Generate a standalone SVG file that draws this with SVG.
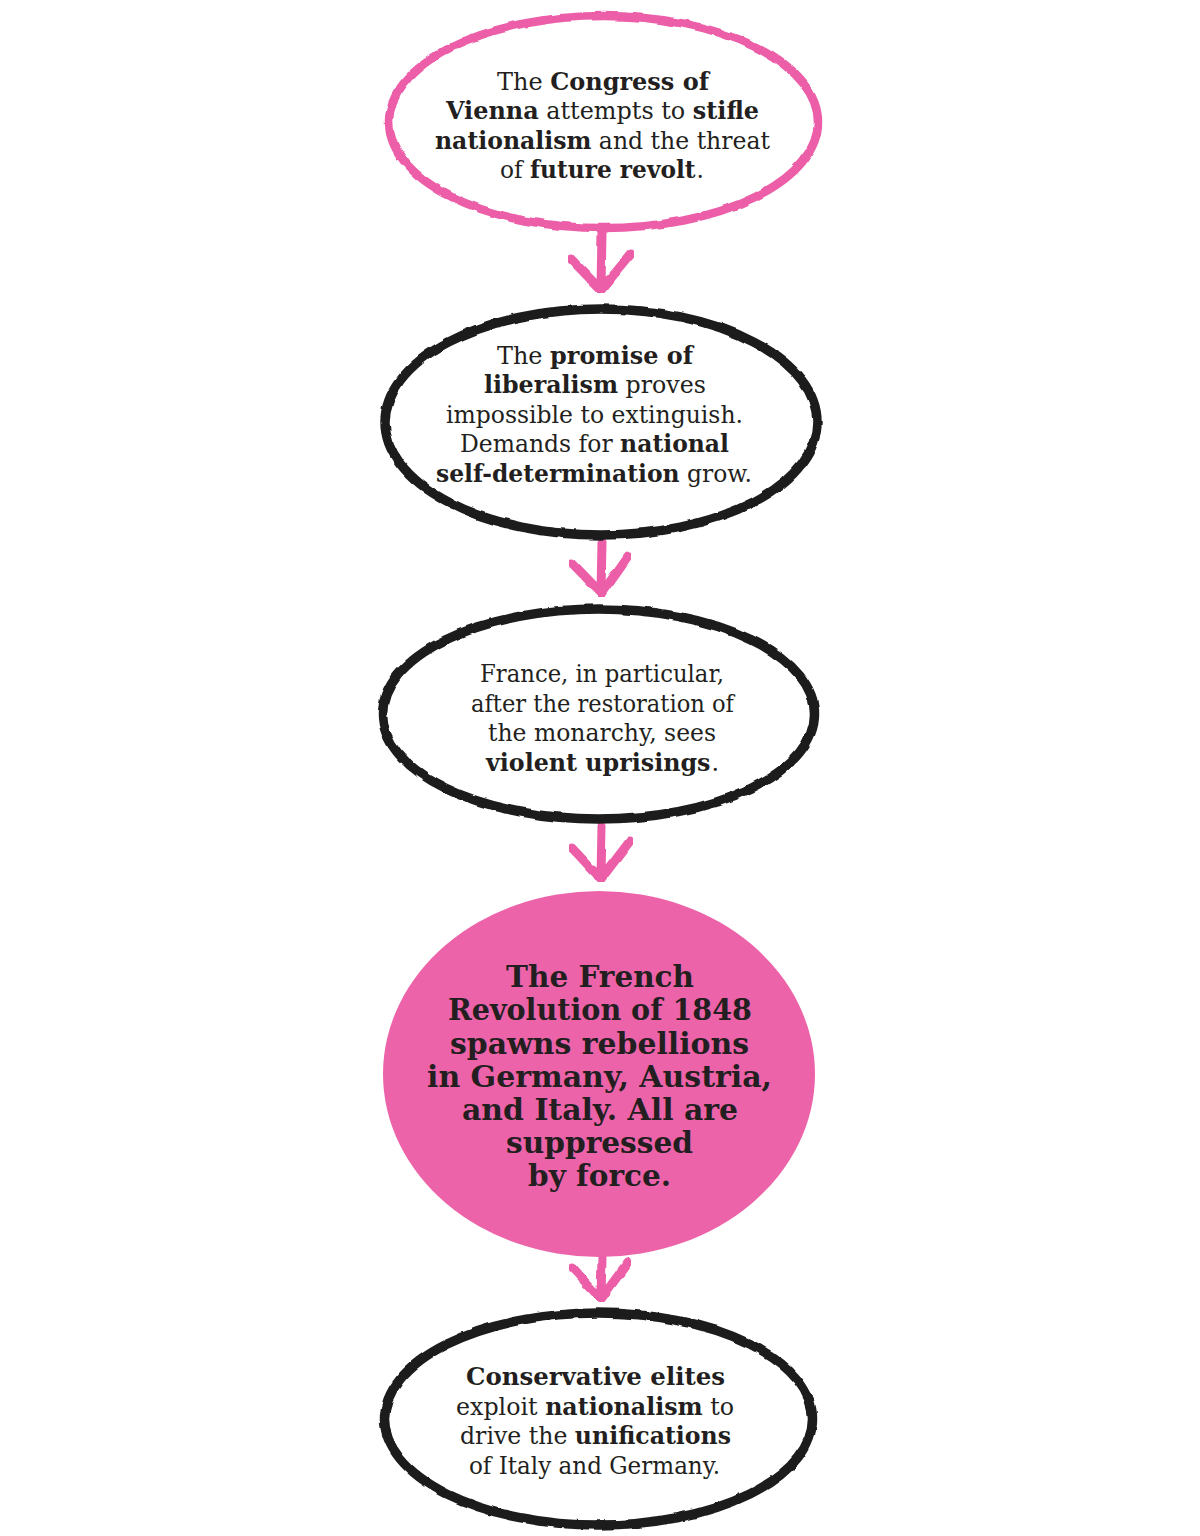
<svg xmlns="http://www.w3.org/2000/svg" width="1200" height="1536" viewBox="0 0 1200 1536">
<defs>
<filter id="rough" x="-5%" y="-5%" width="110%" height="110%">
<feTurbulence type="fractalNoise" baseFrequency="0.06" numOctaves="2" seed="3" result="n"/>
<feDisplacementMap in="SourceGraphic" in2="n" scale="3.5" xChannelSelector="R" yChannelSelector="G"/>
</filter>
<style>
.outline-pink{fill:#ffffff;stroke:#EC5FA8;stroke-width:8.5}
.outline-black{fill:#ffffff;stroke:#1f1b1c;stroke-width:9.5}
.solid-pink{fill:#EC63A9;stroke:none}
.arrow{fill:none;stroke:#EC5FA8;stroke-width:9;stroke-linecap:round;stroke-linejoin:round}
.t{font-family:"DejaVu Serif","Liberation Serif",serif;font-size:24px;fill:#231F20;text-anchor:middle}
.b{font-weight:bold}
.big{font-family:"DejaVu Serif","Liberation Serif",serif;font-size:30px;font-weight:bold;fill:#231F20;text-anchor:middle}
</style>
</defs>
<rect width="1200" height="1536" fill="#ffffff"/>

<g id="connectors">
<path class="arrow" filter="url(#rough)" d="M602,232 L601,289 M571,259 L601,290 L631,254"/>
<path class="arrow" filter="url(#rough)" d="M602,542 L601,593 M572,563 L602,594 L628,557"/>
<path class="arrow" filter="url(#rough)" d="M602,826 L601,877 M572,848 L601,879 L630,841"/>
<path class="arrow" filter="url(#rough)" d="M602,1258 L601,1297 M572,1268 L601,1299 L628,1262"/>
</g>

<g id="node1">
<ellipse class="outline-pink" filter="url(#rough)" cx="603.5" cy="122" rx="214.5" ry="106"/>
<text class="t" x="603" y="90" textLength="212" lengthAdjust="spacingAndGlyphs">The <tspan class="b">Congress of</tspan></text>
<text class="t" x="602.5" y="119" textLength="313" lengthAdjust="spacingAndGlyphs"><tspan class="b">Vienna</tspan> attempts to <tspan class="b">stifle</tspan></text>
<text class="t" x="602.5" y="148.5" textLength="335" lengthAdjust="spacingAndGlyphs"><tspan class="b">nationalism</tspan> and the threat</text>
<text class="t" x="602" y="178" textLength="204" lengthAdjust="spacingAndGlyphs">of <tspan class="b">future revolt</tspan><tspan dx="1">.</tspan></text>
</g>

<g id="node2">
<ellipse class="outline-black" filter="url(#rough)" cx="601" cy="422" rx="216" ry="113"/>
<text class="t" x="595" y="364" textLength="196" lengthAdjust="spacingAndGlyphs">The <tspan class="b">promise of</tspan></text>
<text class="t" x="595" y="393" textLength="222" lengthAdjust="spacingAndGlyphs"><tspan class="b">liberalism</tspan> proves</text>
<text class="t" x="594.5" y="423" textLength="297" lengthAdjust="spacingAndGlyphs">impossible to extinguish.</text>
<text class="t" x="594.5" y="452" textLength="269" lengthAdjust="spacingAndGlyphs">Demands for <tspan class="b">national</tspan></text>
<text class="t" x="594" y="482" textLength="316" lengthAdjust="spacingAndGlyphs"><tspan class="b">self-determination</tspan> grow.</text>
</g>

<g id="node3">
<ellipse class="outline-black" filter="url(#rough)" cx="598.5" cy="714" rx="216" ry="105"/>
<text class="t" x="602" y="682" textLength="244" lengthAdjust="spacingAndGlyphs">France, in particular,</text>
<text class="t" x="602.5" y="711.5" textLength="263" lengthAdjust="spacingAndGlyphs">after the restoration of</text>
<text class="t" x="602" y="741" textLength="228" lengthAdjust="spacingAndGlyphs">the monarchy, sees</text>
<text class="t" x="602.5" y="770.5" textLength="233" lengthAdjust="spacingAndGlyphs"><tspan class="b">violent uprisings</tspan><tspan dx="1">.</tspan></text>
</g>

<g id="node4">
<ellipse class="solid-pink" cx="599" cy="1074" rx="216" ry="183"/>
<text class="big" x="600" y="987" textLength="188" lengthAdjust="spacingAndGlyphs">The French</text>
<text class="big" x="600" y="1020" textLength="304" lengthAdjust="spacingAndGlyphs">Revolution of 1848</text>
<text class="big" x="599.5" y="1054" textLength="299" lengthAdjust="spacingAndGlyphs">spawns rebellions</text>
<text class="big" x="599.5" y="1087" textLength="345" lengthAdjust="spacingAndGlyphs">in Germany, Austria,</text>
<text class="big" x="600" y="1120" textLength="276" lengthAdjust="spacingAndGlyphs">and Italy. All are</text>
<text class="big" x="599.5" y="1153" textLength="187" lengthAdjust="spacingAndGlyphs">suppressed</text>
<text class="big" x="599.5" y="1186" textLength="143" lengthAdjust="spacingAndGlyphs">by force.</text>
</g>

<g id="node5">
<ellipse class="outline-black" filter="url(#rough)" cx="598.5" cy="1419" rx="214" ry="106"/>
<text class="t" x="595.5" y="1385" textLength="259" lengthAdjust="spacingAndGlyphs"><tspan class="b">Conservative elites</tspan></text>
<text class="t" x="595" y="1415" textLength="278" lengthAdjust="spacingAndGlyphs">exploit <tspan class="b">nationalism</tspan> to</text>
<text class="t" x="595.5" y="1444" textLength="271" lengthAdjust="spacingAndGlyphs">drive the <tspan class="b">unifications</tspan></text>
<text class="t" x="594.5" y="1474" textLength="251" lengthAdjust="spacingAndGlyphs">of Italy and Germany.</text>
</g>
</svg>
